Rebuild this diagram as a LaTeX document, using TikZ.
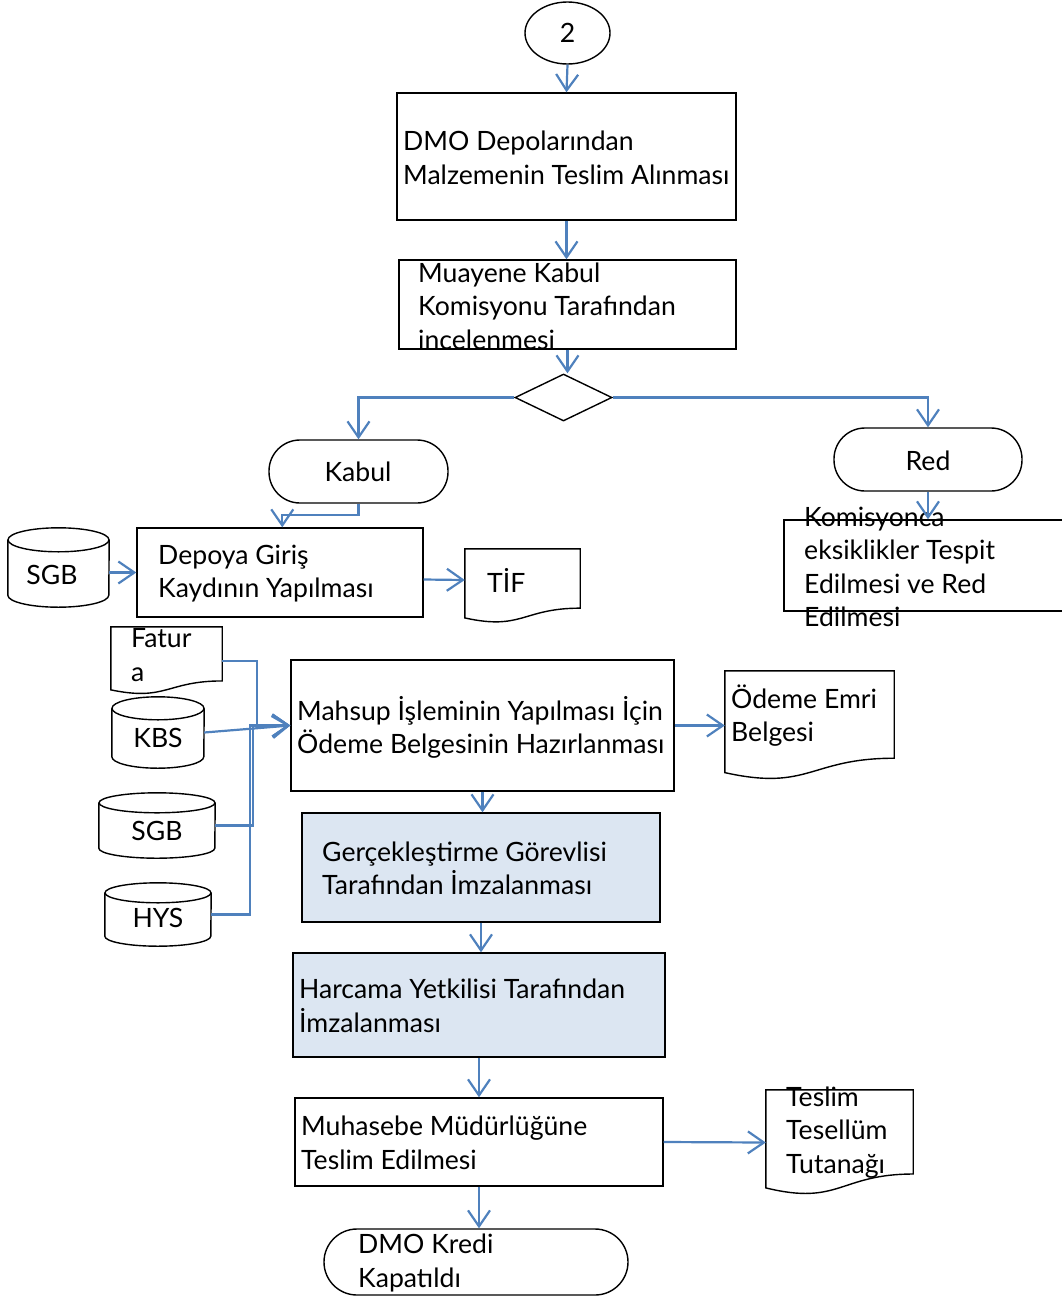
\documentclass[tikz,border=0pt]{standalone}
\usepackage{fontspec}
\setmainfont{Lato}
\usetikzlibrary{shapes.geometric,arrows.meta,calc}
\definecolor{lblue}{HTML}{4F81BD}
\definecolor{lfill}{HTML}{DCE6F2}
\newcommand\fs{\fontsize{26.6}{33.5}\selectfont}
\newcommand\cylshape[3]{% name, half width, ry
  \draw[ln] ($(#1.north)+(0,#3)$) ellipse [x radius=#2pt, y radius=#3pt];
  \draw[ln] ($(#1.north west)+(0,#3)$) -- ($(#1.south west)+(0,-#3)$)
     arc[start angle=180, end angle=360, x radius=#2pt, y radius=#3pt]
     -- ($(#1.north east)+(0,#3)$);
}
\newcommand\docshape[2]{% name, height
  \draw[ln] (#1.north west) -- (#1.north east) -- ($(#1.north east)+(0,{0.802*#2})$)
     .. controls ($(#1.north)+(0,{0.802*#2})$) and ($(#1.north)+(0,{1.107*#2})$) .. ($(#1.north west)+(0,{0.934*#2})$) -- cycle;
}
\tikzset{
  ln/.style={draw=black, line width=1.4pt},
  box/.style={ln, rectangle, inner sep=0pt},
  blank/.style={draw=none, rectangle, inner sep=0pt},
  stad/.style={ln, rectangle, rounded corners=31pt, inner sep=0pt},
  txt/.style={align=left, inner sep=0pt, anchor=west, font=\fs},
  ctxt/.style={inner sep=0pt, font=\fs},
  arr/.style={draw=lblue, line width=2.2pt, -{Straight Barb[length=16pt,width=22pt]}},
}
\begin{document}
\begin{tikzpicture}[x=1pt,y=-1pt]
\useasboundingbox (0,0) rectangle (1062,1299);
% shapes
\node[ln, ellipse, minimum width=85pt, minimum height=62pt, inner sep=0pt] (c2) at (567.5,33) {};
\node[box, minimum width=339pt, minimum height=127pt] (b1) at (566.5,156.5) {};
\node[box, minimum width=337pt, minimum height=89pt] (b2) at (567.5,304.5) {};
\node[ln, diamond, minimum width=97pt, minimum height=47pt, aspect=2.06, inner sep=0pt] (dia) at (563.5,397.5) {};
\node[stad, minimum width=179pt, minimum height=63pt] (kabul) at (358.5,471.5) {};
\node[stad, minimum width=188pt, minimum height=63pt] (red) at (928,459.5) {};
\node[box, minimum width=286pt, minimum height=91pt] (kom) at (927,565.5) {};
\node[box, minimum width=286pt, minimum height=89pt] (depoya) at (280,572.5) {};
\node[blank, minimum width=101pt, minimum height=79pt] (sgba) at (58.5,567.5) {};
\node[blank, minimum width=115pt, minimum height=74pt] (tif) at (522.5,586) {};
\node[blank, minimum width=111pt, minimum height=67.5pt] (fatura) at (166.5,660.75) {};
\node[blank, minimum width=92pt, minimum height=71pt] (kbs) at (158,732.5) {};
\node[blank, minimum width=116pt, minimum height=65pt] (sgbb) at (157,825.5) {};
\node[blank, minimum width=106pt, minimum height=63pt] (hys) at (158,914.5) {};
\node[box, minimum width=383pt, minimum height=131pt] (mahsup) at (482.5,725.5) {};
\node[blank, minimum width=169pt, minimum height=109pt] (odeme) at (809.5,725.5) {};
\node[box, fill=lfill, minimum width=358pt, minimum height=109pt] (gerc) at (481,867.5) {};
\node[box, fill=lfill, minimum width=372pt, minimum height=104pt] (harc) at (479,1005) {};
\node[box, minimum width=368pt, minimum height=88pt] (muh) at (479,1142) {};
\node[blank, minimum width=147pt, minimum height=105pt] (teslim) at (839.5,1142.5) {};
\node[stad, rounded corners=33pt, minimum width=304pt, minimum height=66pt] (kredi) at (476,1262) {};
\cylshape{sgba}{50.5}{12}
\cylshape{kbs}{46}{11.5}
\cylshape{sgbb}{58}{10}
\cylshape{hys}{53}{10}
\docshape{tif}{74}
\docshape{fatura}{67.5}
\docshape{odeme}{109}
\docshape{teslim}{105}
% texts
\node[ctxt] (t2) at (567.5,33) {2};
\node[txt] (tb1) at (403,158) {DMO Depolarından\\Malzemenin Teslim Alınması};
\node[txt] (tb2) at (418,306) {Muayene Kabul\\Komisyonu Tarafından\\incelenmesi};
\node[ctxt] (tkabul) at (358,472) {Kabul};
\node[ctxt] (tred) at (928,461) {Red};
\node[txt] (tkom) at (804,567) {Komisyonca\\eksiklikler Tespit\\Edilmesi ve Red\\Edilmesi};
\node[txt] (tdep) at (158,573.5) {Depoya Giriş\\Kaydının Yapılması};
\node[ctxt] (tsgba) at (52,575) {SGB};
\node[txt] (ttif) at (487,580) {TİF};
\node[txt] (tfat) at (131,655) {Fatur\\a};
\node[ctxt] (tkbs) at (158,738) {KBS};
\node[ctxt] (tsgbb) at (157,831) {SGB};
\node[ctxt] (thys) at (158,918) {HYS};
\node[txt] (tmah) at (297,727.5) {Mahsup İşleminin Yapılması İçin\\Ödeme Belgesinin Hazırlanması};
\node[txt] (tode) at (731,715.5) {Ödeme Emri\\Belgesi};
\node[txt] (tgerc) at (322,868.5) {Gerçekleştirme Görevlisi\\Tarafından İmzalanması};
\node[txt] (tharc) at (299,1006) {Harcama Yetkilisi Tarafından\\İmzalanması};
\node[txt] (tmuh) at (301,1143) {Muhasebe Müdürlüğüne\\Teslim Edilmesi};
\node[txt] (ttes) at (786,1132.5) {Teslim\\Tesellüm\\Tutanağı};
\node[txt] (tkre) at (358,1263) {DMO Kredi\\Kapatıldı};
% connectors
\draw[arr] (c2.south) -- (b1.north);
\draw[arr] (b1.south) -- (b1.south |- b2.north);
\draw[arr] (b2.south) -- (b2.south |- dia.north);
\draw[arr] (dia.west) -| (kabul.north);
\draw[arr] (dia.east) -| (red.north);
\draw[arr] (red.south) -- (red.south |- kom.north);
\draw[arr] (kabul.south) -- ++(0,11) -| ($(depoya.north west)+(146,0)$);
\draw[arr] (depoya.west -| sgba.east) -- (depoya.west);
\draw[arr] ($(depoya.east)+(0,7)$) -- ($(tif.west)+(0,-6)$);
\draw[arr] (fatura.east) -- ++(35,0) |- (mahsup.west);
\draw[arr] (kbs.east) -- (mahsup.west);
\draw[arr] (sgbb.east) -- ++(38,0) |- (mahsup.west);
\draw[arr] (hys.east) -- ++(39,0) |- (mahsup.west);
\draw[arr] (mahsup.east) -- (odeme.west);
\draw[arr] (mahsup.south) -- (mahsup.south |- gerc.north);
\draw[arr] (gerc.south) -- (gerc.south |- harc.north);
\draw[arr] (harc.south) -- (muh.north);
\draw[arr] (muh.east) -- (teslim.west);
\draw[arr] (muh.south) -- (muh.south |- kredi.north);
\end{tikzpicture}
\end{document}
